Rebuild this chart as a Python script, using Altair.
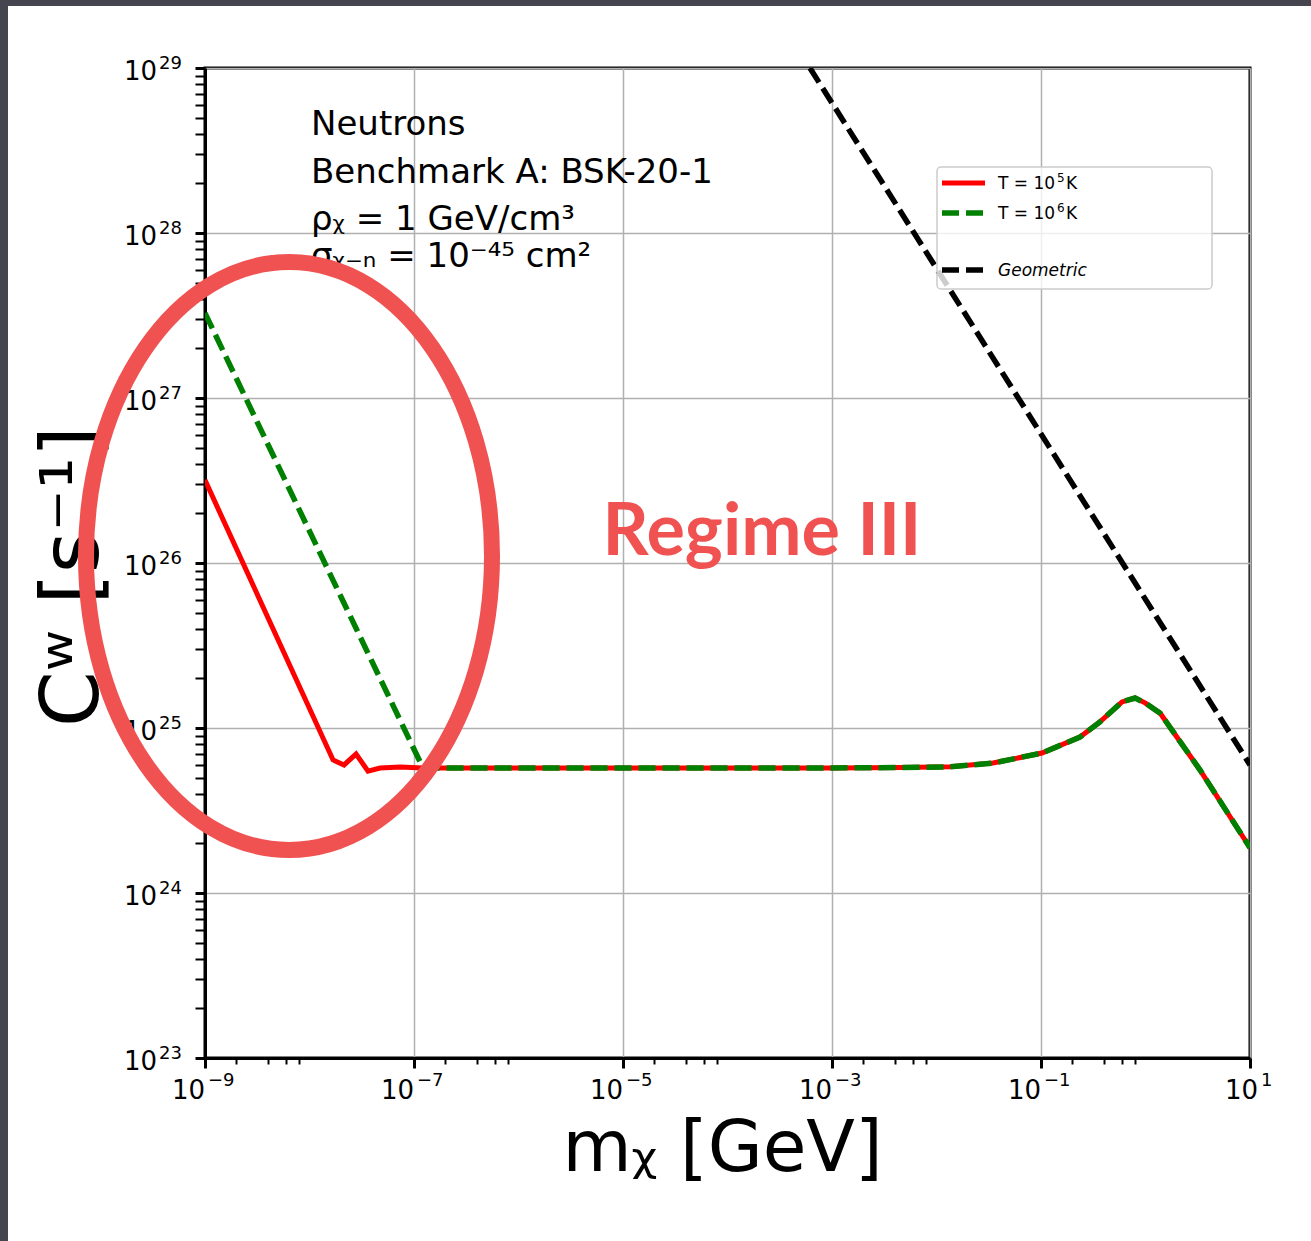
import altair as alt
import pandas as pd

# ---------------- data ----------------
red_mass = [1e-9, 1.68e-8, 2.14e-8, 2.79e-8, 3.63e-8, 4.73e-8, 7.35e-8, 1.22e-7,
            1e-6, 1e-5, 1e-4, 1e-3, 4.6e-3, 1.35e-2, 3.47e-2, 0.102, 0.236, 0.367,
            0.596, 0.794, 0.99, 1.38, 1.79, 3.33, 10]
red_rate = [3.18e26, 6.4e24, 5.97e24, 6.95e24, 5.48e24, 5.72e24, 5.8e24, 5.72e24,
            5.72e24, 5.72e24, 5.72e24, 5.73e24, 5.76e24, 5.82e24, 6.13e24, 7.05e24,
            8.81e24, 1.09e25, 1.44e25, 1.52e25, 1.42e25, 1.23e25, 9.73e24, 5.56e24, 1.88e24]

green_mass = [1e-9, 1.22e-7, 1e-6, 1e-5, 1e-4, 1e-3, 4.6e-3, 1.35e-2, 3.47e-2, 0.102,
              0.236, 0.367, 0.596, 0.794, 0.99, 1.38, 1.79, 3.33, 10]
green_rate = [3.27e27, 5.72e24, 5.72e24, 5.72e24, 5.72e24, 5.73e24, 5.76e24, 5.82e24,
              6.13e24, 7.05e24, 8.81e24, 1.09e25, 1.44e25, 1.52e25, 1.42e25, 1.23e25,
              9.73e24, 5.56e24, 1.88e24]

geo_mass = [6.15e-4, 10]
geo_rate = [1e29, 5.97e24]

x_major_exp = [-9, -7, -5, -3, -1, 1]
x_label_exp_text = ["−9", "−7", "−5", "−3", "−1", "1"]   # labels read "10" + exponent
x_minor_subs = [2, 4, 6, 8]

y_major_exp = [23, 24, 25, 26, 27, 28, 29]
y_label_exp_text = ["23", "24", "25", "26", "27", "28", "29"]
y_minor_subs = [2, 3, 4, 5, 6, 7, 8, 9]

annotation_lines = ["Neutrons", "Benchmark A: BSK-20-1", "ρᵪ = 1 GeV/cm³", "σᵪ₋ₙ = 10⁻⁴⁵ cm²"]
legend_base = ["T = 10", "T = 10", "Geometric"]
legend_sup = ["5", "6", ""]
legend_unit = ["K", "K", ""]
x_title = "mᵪ [GeV]"
y_title = "Cʷ [s⁻¹]"
regime_label = "Regime III"

# ---------------- build tables ----------------
red_df = pd.DataFrame({"m": red_mass, "c": red_rate})
green_df = pd.DataFrame({"m": green_mass, "c": green_rate})
geo_df = pd.DataFrame({"m": geo_mass, "c": geo_rate})
one = pd.DataFrame({"a": [0]})

x_vals = []
for e in x_major_exp:
    x_vals.append(10.0 ** e)
    if e < 1:
        x_vals += [s * 10.0 ** e for s in x_minor_subs]
y_vals = []
for e in y_major_exp:
    y_vals.append(10.0 ** e)
    if e < 29:
        y_vals += [s * 10.0 ** e for s in y_minor_subs]

xlab_df = pd.DataFrame({"m": [10.0 ** e for e in x_major_exp], "exp": x_label_exp_text,
                        "neg": [e < 0 for e in x_major_exp]})
ylab_df = pd.DataFrame({"c": [10.0 ** e for e in y_major_exp], "exp": y_label_exp_text})

L = "(log(datum.value)/LN10)"
MAJOR = f"abs({L} - round({L})) < 0.001"

FONT = "DejaVu Sans"
x_axis = alt.Axis(
    values=x_vals, labels=False,
    tickColor="black",
    tickSize={"condition": {"test": MAJOR, "value": 10}, "value": 6},
    tickWidth={"condition": {"test": MAJOR, "value": 3}, "value": 2},
    domainColor="black", domainWidth=3,
    grid=True, gridColor="#b0b0b0", gridWidth=1.5,
    gridOpacity={"condition": {"test": MAJOR, "value": 1}, "value": 0},
    title=x_title, titleFont=FONT, titleFontSize=71, titleFontWeight="normal",
    titleColor="black", titleX=517, titleY=112, titleAlign="center",
    titleBaseline="alphabetic", titleAngle=0,
)
y_axis = alt.Axis(
    values=y_vals, labels=False,
    tickColor="black", tickSize=10,
    tickWidth={"condition": {"test": MAJOR, "value": 3}, "value": 2},
    domainColor="black", domainWidth=3,
    grid=True, gridColor="#b0b0b0", gridWidth=1.5,
    gridOpacity={"condition": {"test": MAJOR, "value": 1}, "value": 0},
    title=y_title, titleFont=FONT, titleFontSize=80, titleFontWeight="normal",
    titleColor="black", titleX=-108, titleY=508, titleAlign="center",
    titleBaseline="alphabetic", titleAngle=270,
)
xs = alt.Scale(type="log", domain=[1e-9, 10], nice=False)
ys = alt.Scale(type="log", domain=[1e23, 1e29], nice=False)


def line_layer(df, color, width, dash=None):
    kw = dict(color=color, strokeWidth=width, clip=True)
    if dash:
        kw["strokeDash"] = dash
    return alt.Chart(df).mark_line(**kw).encode(
        x=alt.X("m:Q", scale=xs, axis=x_axis),
        y=alt.Y("c:Q", scale=ys, axis=y_axis),
    )


GREEN_DASH = [17, 7]
BLACK_DASH = [17, 7]
geo = line_layer(geo_df, "black", 5.5, BLACK_DASH)
red = line_layer(red_df, "#ff0000", 5)
green = line_layer(green_df, "#008000", 5.5, GREEN_DASH)

# tick labels "10" + superscript exponent, placed through the scales
tick_layers = []
for neg, dx_base in [(True, 0), (False, 8)]:
    src = alt.Chart(xlab_df).transform_filter(f"datum.neg == {str(neg).lower()}")
    tick_layers.append(src.mark_text(
        text="10", font=FONT, fontSize=26, color="black", align="right",
        baseline="alphabetic", dx=dx_base
    ).encode(x=alt.X("m:Q", scale=xs, axis=x_axis), y=alt.value(1031)))
    tick_layers.append(src.mark_text(
        font=FONT, fontSize=18, color="black", align="left",
        baseline="alphabetic", dx=dx_base + 3
    ).encode(x=alt.X("m:Q", scale=xs, axis=x_axis), y=alt.value(1018), text="exp:N"))
tick_layers.append(alt.Chart(ylab_df).mark_text(
    text="10", font=FONT, fontSize=26, color="black", align="right",
    baseline="alphabetic", dy=12
).encode(y=alt.Y("c:Q", scale=ys, axis=y_axis), x=alt.value(-48)))
tick_layers.append(alt.Chart(ylab_df).mark_text(
    font=FONT, fontSize=18, color="black", align="left", baseline="alphabetic", dy=1
).encode(y=alt.Y("c:Q", scale=ys, axis=y_axis), x=alt.value(-46), text="exp:N"))

# legend (drawn by hand, matplotlib-style)
leg_box = alt.Chart(one).mark_rect(
    fill="white", fillOpacity=0.8, stroke="#cccccc", strokeWidth=1.5, cornerRadius=4
).encode(x=alt.value(732), x2=alt.value(1007), y=alt.value(99), y2=alt.value(221))
leg_rows = [(115, "#ff0000", 5, None), (145, "#008000", 5.5, GREEN_DASH), (202, "black", 5.5, BLACK_DASH)]
leg_layers = [leg_box]
for (yy, col, w, dash), base, sup, unit in zip(leg_rows, legend_base, legend_sup, legend_unit):
    kw = dict(color=col, strokeWidth=w)
    if dash:
        kw["strokeDash"] = dash
    leg_layers.append(alt.Chart(one).mark_rule(**kw).encode(
        x=alt.value(737), x2=alt.value(780), y=alt.value(yy)))
    tkw = dict(text=base, font=FONT, fontSize=17, color="black", align="left", baseline="alphabetic")
    if not sup:
        tkw["fontStyle"] = "italic"
    leg_layers.append(alt.Chart(one).mark_text(**tkw).encode(
        x=alt.value(793), y=alt.value(yy + 6)))
    if sup:
        leg_layers.append(alt.Chart(one).mark_text(
            text=sup, font=FONT, fontSize=12, color="black", align="left", baseline="alphabetic"
        ).encode(x=alt.value(852), y=alt.value(yy - 1)))
        leg_layers.append(alt.Chart(one).mark_text(
            text=unit, font=FONT, fontSize=17, color="black", align="left", baseline="alphabetic"
        ).encode(x=alt.value(861), y=alt.value(yy + 6)))

# annotation block
ann_layers = []
for yy, line in zip([67, 115, 162, 199], annotation_lines):
    ann_layers.append(alt.Chart(one).mark_text(
        text=line, font=FONT, fontSize=34, color="black", align="left", baseline="alphabetic"
    ).encode(x=alt.value(106), y=alt.value(yy)))

# red ellipse + label
ry = 1.448
k = 0.5523
ell = (f"M 1 0 C 1 {k*ry:.4f} {k:.4f} {ry} 0 {ry} "
       f"C -{k:.4f} {ry} -1 {k*ry:.4f} -1 0 "
       f"C -1 -{k*ry:.4f} -{k:.4f} -{ry} 0 -{ry} "
       f"C {k:.4f} -{ry} 1 -{k*ry:.4f} 1 0 Z")
ellipse = alt.Chart(one).mark_point(
    shape=ell, size=406 * 406, filled=False, stroke="#f05252", strokeWidth=16, opacity=1
).encode(x=alt.value(84), y=alt.value(488))
regime = alt.Chart(one).mark_text(
    text=regime_label, font="Lato", fontWeight="bold", fontSize=72, color="#f05252",
    align="center", baseline="alphabetic"
).encode(x=alt.value(557), y=alt.value(487))

# dark screenshot frame
frame_left = alt.Chart(one).mark_rect(color="#45454f").encode(
    x=alt.value(-205), x2=alt.value(-197), y=alt.value(-68), y2=alt.value(1173))
frame_top = alt.Chart(one).mark_rect(color="#45454f").encode(
    x=alt.value(-205), x2=alt.value(1106), y=alt.value(-68), y2=alt.value(-62))

chart = alt.layer(
    geo, red, green, *tick_layers, *leg_layers, *ann_layers, ellipse, regime,
    frame_left, frame_top
).properties(
    width=1045, height=990,
    autosize=alt.AutoSizeParams(type="none"),
    padding={"left": 205, "top": 68, "right": 61, "bottom": 183},
    background="white",
).configure_view(stroke="black", strokeWidth=3)

chart.save("out.html", embed_options={"renderer": "svg", "actions": False})
